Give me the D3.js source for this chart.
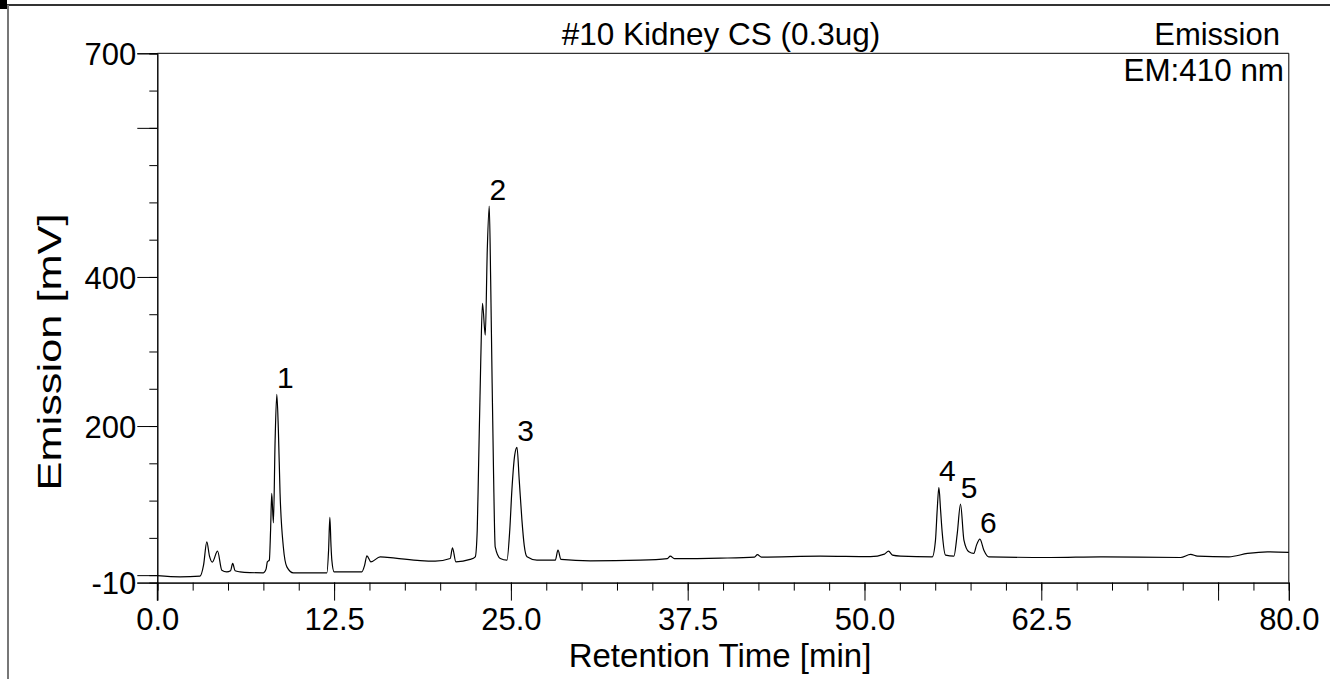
<!DOCTYPE html>
<html>
<head>
<meta charset="utf-8">
<script src="https://cdn.jsdelivr.net/npm/d3@7"></script>
<style>
  body { margin: 0; background: #fff; }
  text { font-family: "Liberation Sans", Arial, sans-serif; fill: #000; }
</style>
</head>
<body>
<div id="chart"></div>
<script>
// Retention time (min) of points
var times = [0, 1.61, 3.02, 3.27, 3.50, 3.69, 3.89, 4.26, 4.56, 4.91, 5.18, 5.33, 5.50, 5.85, 6.56, 7.50,
  7.69, 7.78, 7.92, 8.01, 8.09, 8.21, 8.33, 8.45, 8.56, 8.68, 8.91, 9.16, 9.62, 11.99, 12.11, 12.20,
  12.28, 12.34, 12.50, 14.46, 14.66, 14.82, 15.10, 15.76, 16.82, 18.59, 19.65, 20.71, 20.87, 21.11,
  22.12, 22.48, 22.62, 22.71, 22.87, 22.99, 23.19, 23.33, 23.47, 23.57, 23.66, 23.77, 23.89, 24.25,
  24.72, 24.92, 25.07, 25.27, 25.43, 25.59, 25.78, 25.94, 26.14, 26.84, 28.14, 28.33, 28.54, 30.61,
  34.15, 36.06, 36.27, 36.56, 39.81, 42.22, 42.43, 42.71, 46.88, 50.42, 51.41, 51.70, 51.98, 52.55,
  54.79, 55.02, 55.14, 55.26, 55.38, 55.50, 55.73, 56.32, 56.56, 56.79, 57.03, 57.38, 57.73, 57.92,
  58.16, 58.44, 58.79, 63.16, 66.70, 72.35, 73.06, 73.54, 75.77, 77.08, 78.49, 80];
// Emission signal (mV) at those times
var signal = [-0.7, -2.3, -1.3, 13.4, 44.7, 25.5, 17.4, 32.2, 6.7, 4.4, 6.0, 15.7, 5.8, 4.4, 3.4, 3.1,
  8.1, 17.8, 20.1, 60.4, 109.6, 70.2, 181.1, 242.5, 194.6, 109.6, 38.0, 11.1, 3.1, 3.1, 33.5, 77.4,
  40.3, 20.1, 4.4, 4.4, 13.4, 25.9, 17.8, 24.6, 22.8, 19.5, 18.8, 22.4, 36.6, 17.8,
  21.1, 24.6, 60.4, 140.9, 288.5, 364.6, 322.0, 436.1, 495.1, 395.8, 275.1, 140.9, 38.0, 22.4,
  20.1, 60.4, 114.0, 161.0, 171.3, 127.5, 73.8, 40.3, 24.6, 20.1, 20.1, 33.5, 21.1, 19.2,
  20.1, 22.1, 25.5, 22.1, 22.8, 24.2, 27.5, 24.2, 25.5, 24.8, 28.2, 32.2, 26.8, 25.5,
  24.6, 47.0, 87.2, 117.7, 87.2, 56.0, 26.8, 25.5, 56.0, 95.3, 47.0, 31.3, 29.1, 40.3,
  48.3, 33.5, 24.6, 23.7, 24.6, 23.7, 27.8, 25.5, 24.6, 29.1, 31.3, 30.5];

// Numbered peaks: label and apex index in the arrays above
var peakNames = ["1", "2", "3", "4", "5", "6"];
var peakIndex = [23, 54, 64, 91, 97, 102];

// Axis ticks
var xMinorTicks = d3.range(0, 80.01, 2.5);
var xMajorTicks = [0, 12.5, 25, 37.5, 50, 62.5, 75, 80];
var xTickLabels = [0, 12.5, 25, 37.5, 50, 62.5, 80];
var yMinorTicks = d3.range(0, 700.01, 50);
var yMajorTicks = [-10, 0, 200, 400, 600, 700];
var yTickLabels = [-10, 200, 400, 700];

let svg = d3.select("#chart")
            .append("svg")
            .attr("width", 1330)
            .attr("height", 679);

// outer frame
svg.append("line").attr("x1", 7).attr("x2", 1330).attr("y1", 5).attr("y2", 5)
   .attr("stroke", "#333").attr("stroke-width", 2);
svg.append("line").attr("x1", 8).attr("x2", 8).attr("y1", 5).attr("y2", 679)
   .attr("stroke", "#777").attr("stroke-width", 2);
svg.append("rect").attr("x", 0).attr("y", 0).attr("width", 7).attr("height", 9).attr("fill", "#000");

let x = d3.scaleLinear().domain([0, 80]).range([157.3, 1288.8]);
let y = d3.scaleLinear().domain([-10, 700]).range([582.6, 53.3]);

let g = svg.append("g");

// plot box (top and right edges)
g.append("path")
 .attr("d", `M${x(0)},${y(700)}H${x(80)}V${y(-10)}`)
 .attr("fill", "none").attr("stroke", "#000").attr("stroke-width", 1);

// x axis
let xAxisMinor = d3.axisBottom(x).tickValues(xMinorTicks).tickSize(8).tickFormat("");
let xAxisMajor = d3.axisBottom(x).tickValues(xMajorTicks).tickSize(18)
                   .tickFormat(d => xTickLabels.includes(d) ? d3.format(".1f")(d) : "");
g.append("g").attr("transform", `translate(0,${y(-10)})`).call(xAxisMinor);
let xa = g.append("g").attr("transform", `translate(0,${y(-10)})`).call(xAxisMajor);

// y axis
let yAxisMinor = d3.axisLeft(y).tickValues(yMinorTicks).tickSize(8).tickFormat("");
let yAxisMajor = d3.axisLeft(y).tickValues(yMajorTicks).tickSize(20)
                   .tickFormat(d => yTickLabels.includes(d) ? d : "");
g.append("g").attr("transform", `translate(${x(0)},0)`).call(yAxisMinor);
let ya = g.append("g").attr("transform", `translate(${x(0)},0)`).call(yAxisMajor);

g.selectAll(".domain").attr("stroke", "#000").attr("stroke-width", 1);
g.selectAll(".tick line").attr("stroke", "#000").attr("stroke-width", 1);
g.selectAll(".tick text").attr("font-family", "Liberation Sans, Arial, sans-serif")
 .attr("font-size", 31).attr("fill", "#000");
xa.selectAll(".tick text").attr("dy", null).attr("y", 47);
ya.selectAll(".tick text").attr("x", -21).attr("dy", "0.36em");
// y axis reaches down to the long x ticks
g.append("line").attr("x1", x(0)).attr("x2", x(0)).attr("y1", y(-10)).attr("y2", y(-10) + 18)
 .attr("stroke", "#000");

// trace
let line = d3.line()
             .x((d, i) => x(times[i]))
             .y(d => y(d))
             .curve(d3.curveMonotoneX);

g.append("path")
 .datum(signal)
 .attr("d", line)
 .attr("fill", "none")
 .attr("stroke", "#000")
 .attr("stroke-width", 1.2);

// peak numbers
g.selectAll(".peak")
 .data(peakNames)
 .enter()
 .append("text")
 .attr("class", "peak")
 .attr("x", (d, i) => x(times[peakIndex[i]]) + 8.5)
 .attr("y", (d, i) => y(signal[peakIndex[i]]) - 6.5)
 .attr("text-anchor", "middle")
 .attr("font-size", 30)
 .text(d => d);

// titles
svg.append("text").attr("x", 721).attr("y", 45).attr("text-anchor", "middle")
   .attr("font-size", 31.5).text("#10 Kidney CS (0.3ug)");
svg.append("text").attr("x", 1280).attr("y", 45).attr("text-anchor", "end")
   .attr("font-size", 31).text("Emission");
svg.append("text").attr("x", 1284).attr("y", 81).attr("text-anchor", "end")
   .attr("font-size", 31.4).text("EM:410 nm");

svg.append("text").attr("x", 720).attr("y", 667).attr("text-anchor", "middle")
   .attr("font-size", 33).text("Retention Time [min]");
svg.append("text").attr("transform", "translate(61,352) rotate(-90)")
   .attr("text-anchor", "middle")
   .attr("font-size", 33)
   .attr("textLength", 277)
   .attr("lengthAdjust", "spacingAndGlyphs")
   .text("Emission [mV]");
</script>
</body>
</html>
